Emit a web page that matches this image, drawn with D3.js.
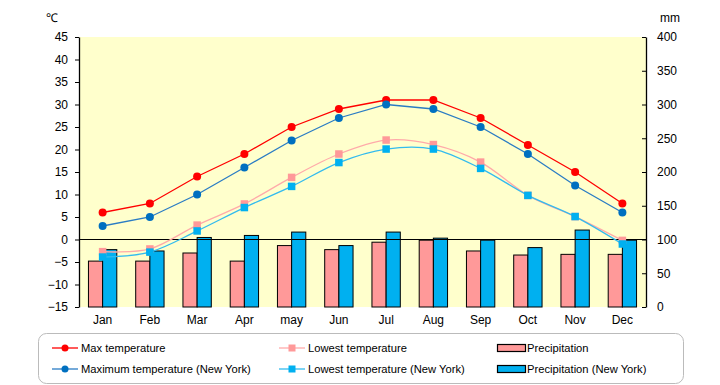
<!DOCTYPE html>
<html>
<head>
<meta charset="utf-8">
<script src="https://cdn.jsdelivr.net/npm/d3@7"></script>
<style>
  body { margin: 0; background: #fff; }
  svg text { font-family: "Liberation Sans", Arial, sans-serif; font-size: 12px; fill: #000; }
  svg text.legend { font-size: 11.2px; }
</style>
</head>
<body>
<svg id="canvas"></svg>
<script>
const months = ['Jan', 'Feb', 'Mar', 'Apr', 'may', 'Jun', 'Jul', 'Aug', 'Sep', 'Oct', 'Nov', 'Dec']
const maxTemp = [6, 8, 14, 19, 25, 29, 31, 31, 27, 21, 15, 8]
const minTemp = [-2.7, -2.1, 3.2, 7.9, 13.8, 19, 22.1, 21.1, 17.2, 9.8, 5.1, -0.2]
const maxTempNY = [3, 5, 10, 16, 22, 27, 30, 29, 25, 19, 12, 6]
const minTempNY = [-3.9, -2.8, 1.9, 7.1, 11.8, 17.1, 20.1, 20.1, 15.8, 9.8, 5.1, -1]
const precip = [68, 68, 80, 68, 91, 85, 96, 99, 83, 77, 78, 78]
const precipNY = [85, 83, 103, 106, 111, 91, 111, 102, 99, 88, 114, 99]
const tempTicks = [-15, -10, -5, 0, 5, 10, 15, 20, 25, 30, 35, 40, 45]
const mmTicks = [0, 50, 100, 150, 200, 250, 300, 350, 400]

const w = 720
const h = 385
const plotLeft = 79
const plotRight = 646
const plotTop = 37
const plotBottom = 307

const canvas = d3.select('#canvas').attr('width', w).attr('height', h)

const x = d3.scaleBand().domain(months).range([plotLeft, plotRight]).padding(0)
const yT = d3.scaleLinear().domain([-15, 45]).range([plotBottom, plotTop])
const yP = d3.scaleLinear().domain([0, 400]).range([plotBottom, plotTop])

// plot background
canvas.append('rect')
      .attr('x', plotLeft).attr('y', plotTop)
      .attr('width', plotRight - plotLeft).attr('height', plotBottom - plotTop)
      .attr('fill', '#ffffcc')

// precipitation bars
const barW = x.bandwidth() * 0.3
const center = m => x(m) + x.bandwidth() / 2

canvas.append('g').selectAll('rect')
      .data(months)
      .enter().append('rect')
      .attr('x', m => center(m) - barW)
      .attr('y', (m, i) => yP(precip[i]))
      .attr('width', barW)
      .attr('height', (m, i) => yP(0) - yP(precip[i]))
      .attr('fill', '#ff9999')
      .attr('stroke', '#000')
      .attr('stroke-width', 1)

canvas.append('g').selectAll('rect')
      .data(months)
      .enter().append('rect')
      .attr('x', m => center(m))
      .attr('y', (m, i) => yP(precipNY[i]))
      .attr('width', barW)
      .attr('height', (m, i) => yP(0) - yP(precipNY[i]))
      .attr('fill', '#00b0f0')
      .attr('stroke', '#000')
      .attr('stroke-width', 1)

// zero line
canvas.append('line')
      .attr('x1', plotLeft).attr('x2', plotRight)
      .attr('y1', yT(0)).attr('y2', yT(0))
      .attr('stroke', '#000').attr('stroke-width', 1.2)

// axes
const leftAxis = d3.axisLeft(yT).tickValues(tempTicks).tickSizeInner(4).tickSizeOuter(0).tickPadding(7)
canvas.append('g').attr('transform', `translate(${plotLeft},0)`).call(leftAxis)

const rightAxis = d3.axisRight(yP).tickValues(mmTicks).tickSizeInner(-4).tickSizeOuter(0).tickPadding(11)
canvas.append('g').attr('transform', `translate(${plotRight},0)`).call(rightAxis)

canvas.selectAll('.domain').attr('stroke', '#000').attr('stroke-width', 1.3)
canvas.selectAll('.tick line').attr('stroke', '#000')
canvas.selectAll('.tick text').attr('font-size', 12).attr('font-family', '"Liberation Sans", Arial, sans-serif')

// month labels
canvas.append('g').selectAll('text')
      .data(months)
      .enter().append('text')
      .attr('x', m => center(m))
      .attr('y', 324)
      .attr('text-anchor', 'middle')
      .text(m => m)

canvas.append('text').attr('x', 46).attr('y', 22).text('℃')
canvas.append('text').attr('x', 660).attr('y', 22).text('mm')

// temperature series
const series = [
  {name: 'Max temperature', values: maxTemp, color: '#ff0000', marker: 'circle', curve: d3.curveLinear, mColor: '#ff0000'},
  {name: 'Lowest temperature', values: minTemp, color: '#ffaaaa', marker: 'square', curve: d3.curveCardinal.tension(0), mColor: '#ff9999'},
  {name: 'Maximum temperature (New York)', values: maxTempNY, color: '#2a7cc4', marker: 'circle', curve: d3.curveLinear, mColor: '#0070c0'},
  {name: 'Lowest temperature (New York)', values: minTempNY, color: '#33bbee', marker: 'square', curve: d3.curveCardinal.tension(0), mColor: '#00b0f0'}
]

series.forEach(s => {
  const line = d3.line()
                 .x((d, i) => center(months[i]))
                 .y(d => yT(d))
                 .curve(s.curve)
  canvas.append('path')
        .attr('d', line(s.values))
        .attr('fill', 'none')
        .attr('stroke', s.color)
        .attr('stroke-width', 1.3)
  const g = canvas.append('g')
  if (s.marker === 'circle') {
    g.selectAll('circle').data(s.values).enter().append('circle')
     .attr('cx', (d, i) => center(months[i]))
     .attr('cy', d => yT(d))
     .attr('r', 4)
     .attr('fill', s.mColor)
  } else {
    g.selectAll('rect').data(s.values).enter().append('rect')
     .attr('x', (d, i) => center(months[i]) - 3.75)
     .attr('y', d => yT(d) - 3.75)
     .attr('width', 7.5).attr('height', 7.5)
     .attr('fill', s.mColor)
  }
})

// legend
canvas.append('rect')
      .attr('x', 38.5).attr('y', 333.5)
      .attr('width', 645).attr('height', 50)
      .attr('rx', 8)
      .attr('fill', '#fff')
      .attr('stroke', '#bbbbbb')

const legendItems = [
  {s: series[0], x: 52, y: 348},
  {s: series[2], x: 52, y: 369},
  {s: series[1], x: 279, y: 348},
  {s: series[3], x: 279, y: 369}
]
legendItems.forEach(it => {
  canvas.append('line')
        .attr('x1', it.x).attr('x2', it.x + 26)
        .attr('y1', it.y).attr('y2', it.y)
        .attr('stroke', it.s.color).attr('stroke-width', 1.3)
  if (it.s.marker === 'circle') {
    canvas.append('circle').attr('cx', it.x + 13).attr('cy', it.y).attr('r', 3.5).attr('fill', it.s.mColor)
  } else {
    canvas.append('rect').attr('x', it.x + 9.5).attr('y', it.y - 3.5).attr('width', 7).attr('height', 7).attr('fill', it.s.mColor)
  }
  canvas.append('text').attr('class', 'legend').attr('x', it.x + 29).attr('y', it.y + 4).text(it.s.name)
})

const barLegend = [
  {name: 'Precipitation', color: '#ff9999', y: 348},
  {name: 'Precipitation (New York)', color: '#00b0f0', y: 369}
]
barLegend.forEach(b => {
  canvas.append('rect')
        .attr('x', 497.5).attr('y', b.y - 3.5)
        .attr('width', 28).attr('height', 7)
        .attr('fill', b.color).attr('stroke', '#000').attr('stroke-width', 1.2)
  canvas.append('text').attr('class', 'legend').attr('x', 527).attr('y', b.y + 4).text(b.name)
})
</script>
</body>
</html>
